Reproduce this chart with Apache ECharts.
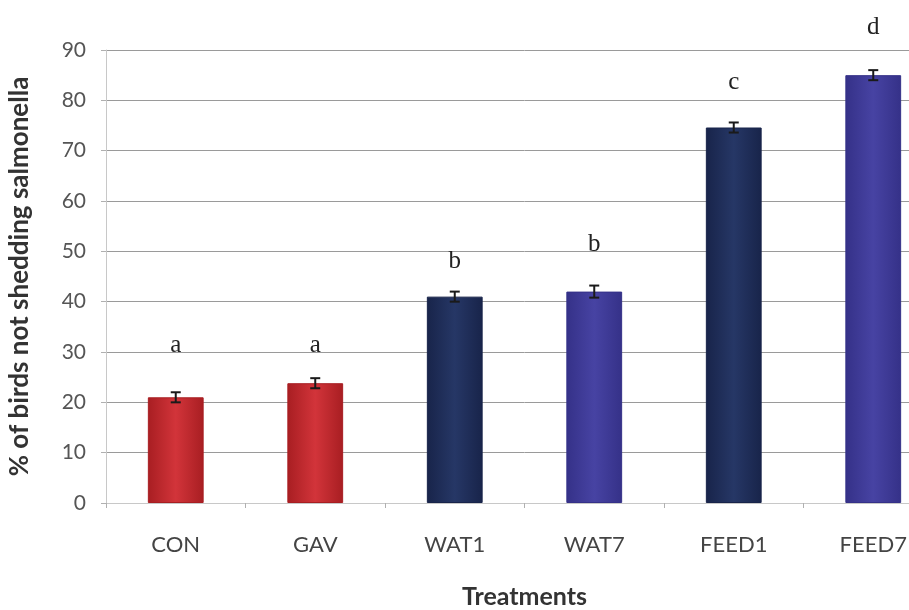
<!DOCTYPE html>
<html>
<head>
<meta charset="utf-8">
<script src="https://cdn.jsdelivr.net/npm/echarts@6/dist/echarts.min.js"></script>
<style>
  html, body { margin: 0; padding: 0; background: #fff; overflow: hidden; }
  /* the plot area runs a little past the right edge of the window */
  #chart { width: 950px; height: 610px; }
</style>
</head>
<body>
<div id="chart"></div>
<script>
// Treatment groups and the share of birds that stopped shedding salmonella
const treatments = ['CON', 'GAV', 'WAT1', 'WAT7', 'FEED1', 'FEED7'];
const notShedding = [21, 23.8, 41, 42, 74.6, 85];
const stdError = [1, 1, 1, 1.2, 1, 1];
const groupLetters = ['a', 'a', 'b', 'b', 'c', 'd'];
const yTicks = [0, 10, 20, 30, 40, 50, 60, 70, 80, 90];

// Presentation settings
const barColors = [
  ['#a81e22', '#d2343a'],
  ['#a81e22', '#d2343a'],
  ['#18244a', '#263766'],
  ['#353188', '#4743a3'],
  ['#18244a', '#263766'],
  ['#353188', '#4743a3']
];
// vertical gap (px) between the bar top and each significance letter
const letterLift = [52, 38, 35, 47, 45, 48];

const chart = echarts.init(document.getElementById('chart'));

const barData = notShedding.map((v, i) => ({
  value: v,
  itemStyle: {
    color: new echarts.graphic.LinearGradient(0, 0, 1, 0, [
      { offset: 0, color: barColors[i][0] },
      { offset: 0.5, color: barColors[i][1] },
      { offset: 1, color: barColors[i][0] }
    ]),
    borderColor: barColors[i][0],
    borderWidth: 1
  }
}));

chart.setOption({
  animation: false,
  backgroundColor: '#ffffff',
  grid: { left: 106, right: 7, top: 50, bottom: 107, outerBoundsMode: 'none' },
  xAxis: {
    type: 'category',
    data: treatments,
    name: 'Treatments',
    nameLocation: 'middle',
    nameGap: 81,
    nameTextStyle: { fontFamily: 'Lato', fontWeight: 'bold', fontSize: 25, color: '#333' },
    axisLine: { lineStyle: { color: '#c8c8c8', width: 1 } },
    axisTick: { show: true, length: 5, lineStyle: { color: '#b0b0b0' } },
    axisLabel: { fontFamily: 'Lato', fontSize: 22, color: '#444', margin: 31 }
  },
  yAxis: {
    type: 'value',
    min: yTicks[0],
    max: yTicks[yTicks.length - 1],
    interval: 10,
    name: '% of birds not shedding salmonella',
    nameLocation: 'middle',
    nameGap: 73,
    nameTextStyle: { fontFamily: 'Lato', fontWeight: 'bold', fontSize: 26, color: '#333' },
    axisLine: { show: true, lineStyle: { color: '#c8c8c8' } },
    axisTick: { show: true, length: 5, lineStyle: { color: '#b0b0b0' } },
    axisLabel: { fontFamily: 'Lato', fontSize: 21, color: '#555', margin: 20 },
    splitLine: { lineStyle: { color: '#9a9a9a', width: 1 } }
  },
  series: [
    {
      type: 'bar',
      data: barData,
      barWidth: '40%'
    },
    {
      type: 'custom',
      clip: false,
      z: 5,
      data: notShedding.map((v, i) => [i, v, stdError[i]]),
      renderItem: function (params, api) {
        const i = api.value(0);
        const v = api.value(1);
        const e = api.value(2);
        const top = api.coord([i, v + e]);
        const bot = api.coord([i, v - e]);
        const barTop = api.coord([i, v]);
        const cap = 5;
        const style = { stroke: '#1a1a1a', lineWidth: 2 };
        return {
          type: 'group',
          children: [
            { type: 'line', shape: { x1: top[0], y1: top[1], x2: bot[0], y2: bot[1] }, style: style },
            { type: 'line', shape: { x1: top[0] - cap, y1: top[1], x2: top[0] + cap, y2: top[1] }, style: style },
            { type: 'line', shape: { x1: bot[0] - cap, y1: bot[1], x2: bot[0] + cap, y2: bot[1] }, style: style },
            {
              type: 'text',
              style: {
                text: groupLetters[i],
                x: barTop[0],
                y: barTop[1] - letterLift[i],
                align: 'center',
                verticalAlign: 'middle',
                fontFamily: 'Liberation Serif',
                fontSize: 25,
                fill: '#222'
              }
            }
          ]
        };
      }
    }
  ]
});
</script>
</body>
</html>
